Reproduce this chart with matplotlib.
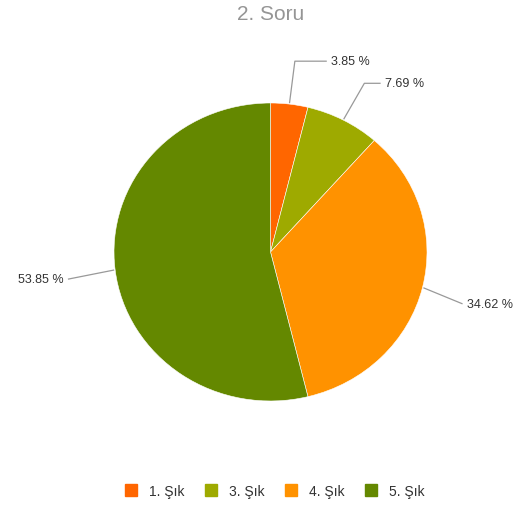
import numpy as np
import matplotlib.pyplot as plt
from matplotlib.lines import Line2D

plt.rcParams['font.family'] = ['Liberation Sans', 'DejaVu Sans']

# question 2 answers
labels = ['1. Şık', '3. Şık', '4. Şık', '5. Şık']
values = [3.85, 7.69, 34.62, 53.85]
colors = ['#ff6600', '#9eaa00', '#ff9200', '#648800']
# connector elbow radius, vertical nudge and horizontal tail (data units)
elbows = [1.29, 1.29, 1.26, 1.3]
nudges = [0.0, -0.01, -0.045, -0.025]
tails = [0.2, 0.1, 0.0, 0.0]

fig = plt.figure(figsize=(5.29, 5.10), dpi=100)
ax = fig.add_axes([0.2155, 0.2118, 0.5917, 0.5843])

wedges, _ = ax.pie(values, colors=colors, startangle=90, counterclock=False,
                   radius=1.0, wedgeprops=dict(edgecolor='white', linewidth=0.4))
ax.set_xlim(-1, 1)
ax.set_ylim(-1, 1)
ax.set_aspect('auto')
ax.axis('off')

for w, v, r, dy, t in zip(wedges, values, elbows, nudges, tails):
    ang = np.deg2rad((w.theta1 + w.theta2) / 2)
    x0, y0 = np.cos(ang), np.sin(ang)
    x1, y1 = r * x0, r * y0 + dy
    sgn = 1 if x0 >= 0 else -1
    x2 = x1 + sgn * t
    ax.plot([1.01 * x0, x1, x2], [1.01 * y0, y1, y1], color='#999999', lw=0.9,
            clip_on=False)
    ax.text(x2 + sgn * 0.03, y1, f'{v:.2f} %', ha='left' if sgn > 0 else 'right',
            va='center', fontsize=9, color='#333333')

fig.text(0.5113, 0.971, '2. Soru', ha='center', va='center', fontsize=15,
         color='#959595')

handles = [Line2D([], [], marker='s', linestyle='', markersize=8, color=c)
           for c in colors]
fig.legend(handles, labels, loc='center', bbox_to_anchor=(0.5123, 0.036),
           ncol=4, frameon=False, fontsize=10, handletextpad=0.3,
           columnspacing=0.9, labelcolor='#333333')

fig.savefig('out.png', dpi=100, facecolor='white')
